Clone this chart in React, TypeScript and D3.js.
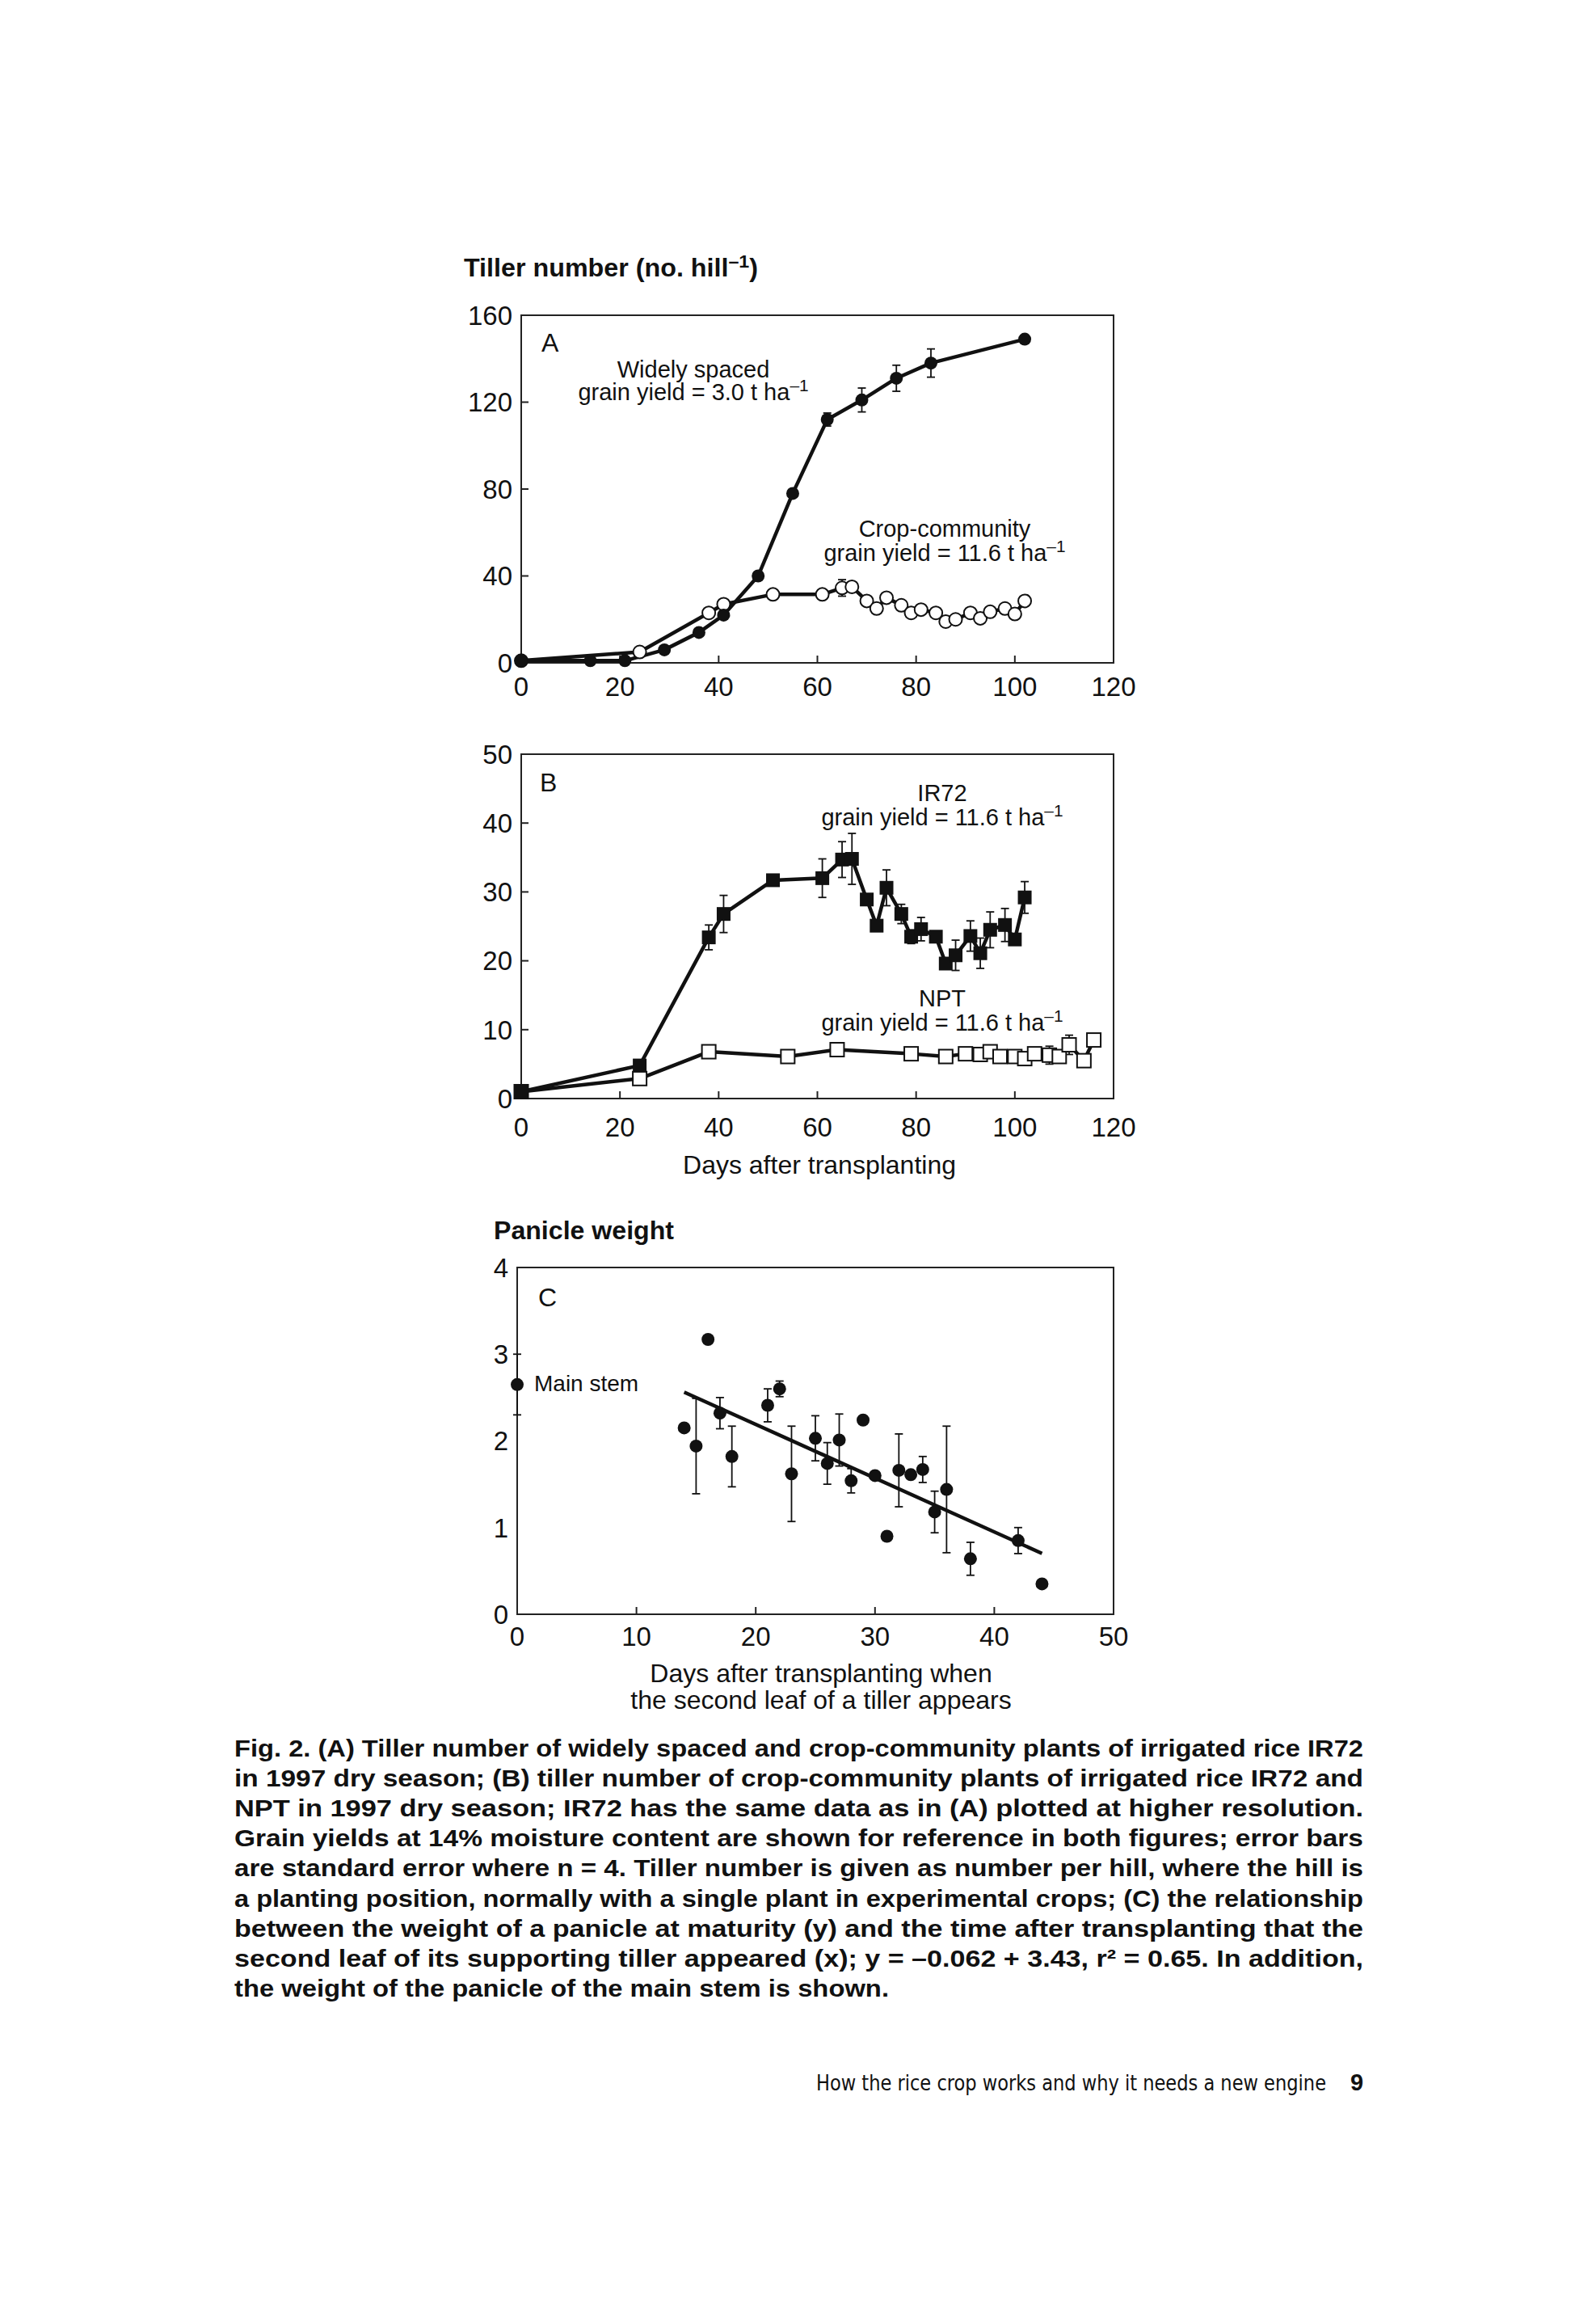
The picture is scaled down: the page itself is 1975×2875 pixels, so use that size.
import React from "react";
import * as d3 from "d3";

// ---------- Panel A: tiller number ----------
const widelyDays = [0, 14, 21, 29, 36, 41, 48, 55, 62, 69, 76, 83, 102];
const widelyTillers = [1, 1, 1, 6, 14, 22, 40, 78, 112, 121, 131, 138, 149];
const widelyErr = [0, 0, 0, 0, 0, 0, 0, 0, 3, 5.5, 6, 6.5, 0];

const communityDays = [0, 24, 38, 41, 51, 61, 65, 67, 70, 72, 74, 77, 79, 81, 84, 86, 88, 91, 93, 95, 98, 100, 102];
const communityTillers = [1, 5, 23, 27, 31.5, 31.5, 34.5, 35, 28.5, 25, 30, 26.5, 23, 24.5, 23, 19, 20, 23, 20.5, 23.5, 25, 22.5, 28.5];
const communityErr = [0, 0, 0, 0, 2, 0, 3.8, 0, 0, 0, 0, 0, 0, 0, 0, 0, 0, 0, 0, 0, 0, 0, 0];

// ---------- Panel B ----------
const ir72Days = [0, 24, 38, 41, 51, 61, 65, 67, 70, 72, 74, 77, 79, 81, 84, 86, 88, 91, 93, 95, 98, 100, 102];
const ir72Tillers = [1, 4.8, 23.4, 26.8, 31.7, 32, 34.7, 34.8, 28.9, 25.1, 30.6, 26.8, 23.5, 24.6, 23.5, 19.6, 20.8, 23.6, 21.1, 24.5, 25.2, 23.1, 29.2];
const ir72Err = [0, 0, 1.8, 2.7, 0.5, 2.8, 2.6, 3.7, 0, 0, 2.6, 1.4, 1, 1.7, 0.5, 0.5, 2.2, 2.2, 2.2, 2.6, 2.4, 0, 2.3];

const nptDays = [0, 24, 38, 54, 64, 79, 86, 90, 93, 95, 97, 100, 102, 104, 107, 109, 111, 114, 116];
const nptTillers = [1, 2.9, 6.8, 6.1, 7.1, 6.5, 6.1, 6.5, 6.4, 6.8, 6.1, 6.1, 5.8, 6.5, 6.3, 6.1, 7.8, 5.5, 8.5];
const nptErr = [0, 0, 0, 0, 0, 0, 0, 0, 0, 0, 0, 0, 0, 0, 1.3, 0, 1.4, 0, 0];

// ---------- Panel C ----------
const emergenceDays = [14, 15, 16, 17, 18, 21, 22, 23, 25, 26, 27, 28, 29, 30, 31, 32, 33, 34, 35, 36, 38, 42, 44];
const panicleWeight = [2.15, 1.94, 3.17, 2.32, 1.82, 2.41, 2.6, 1.62, 2.03, 1.74, 2.01, 1.54, 2.24, 1.6, 0.9, 1.66, 1.61, 1.67, 1.18, 1.44, 0.64, 0.85, 0.35];
const panicleErr = [0, 0.55, 0, 0.18, 0.35, 0.19, 0.09, 0.55, 0.26, 0.24, 0.3, 0.14, 0, 0, 0, 0.42, 0, 0.15, 0.24, 0.73, 0.19, 0.15, 0];
const mainStemDay = [0];
const mainStemWeight = [2.65];
const mainStemErr = [0.35];
const regIntercept = 3.43;
const regSlope = -0.062;
const regRange = [14, 44];

// ---------- ticks ----------
const ticksA_x = [0, 20, 40, 60, 80, 100, 120];
const ticksA_y = [0, 40, 80, 120, 160];
const ticksB_y = [0, 10, 20, 30, 40, 50];
const ticksC_x = [0, 10, 20, 30, 40, 50];
const ticksC_y = [0, 1, 2, 3, 4];

const captionLines = [
  "Fig. 2. (A) Tiller number of widely spaced and crop-community plants of irrigated rice IR72",
  "in 1997 dry season; (B) tiller number of crop-community plants of irrigated rice IR72 and",
  "NPT in 1997 dry season; IR72 has the same data as in (A) plotted at higher resolution.",
  "Grain yields at 14% moisture content are shown for reference in both figures; error bars",
  "are standard error where n = 4. Tiller number is given as number per hill, where the hill is",
  "a planting position, normally with a single plant in experimental crops; (C) the relationship",
  "between the weight of a panicle at maturity (y) and the time after transplanting that the",
  "second leaf of its supporting tiller appeared (x); y = \u20130.062 + 3.43, r\u00b2 = 0.65. In addition,",
  "the weight of the panicle of the main stem is shown.",
];

const FONT = "'Liberation Sans', Arial, Helvetica, sans-serif";
const NARROW = "'Liberation Sans Narrow', 'DejaVu Sans Condensed', 'Liberation Sans', sans-serif";
const INK = "#111";
const TICK_FS = 33;
const NOTE_FS = 29;

type Box = { left: number; right: number; top: number; bottom: number };

function Frame({ box, x, y, xTicks, yTicks, xLabelY, innerX, innerY }: any) {
  return (
    <g>
      <rect x={box.left} y={box.top} width={box.right - box.left} height={box.bottom - box.top} fill="none" stroke="#222" strokeWidth={2} />
      {innerX.map((t: number) => (
        <line key={"xt" + t} x1={x(t)} x2={x(t)} y1={box.bottom} y2={box.bottom - 9} stroke="#222" strokeWidth={2} />
      ))}
      {innerY.map((t: number) => (
        <line key={"yt" + t} x1={box.left} x2={box.left + 9} y1={y(t)} y2={y(t)} stroke="#222" strokeWidth={2} />
      ))}
      {xTicks.map((t: number) => (
        <text key={"xl" + t} x={x(t)} y={xLabelY} textAnchor="middle" fontFamily={FONT} fontSize={TICK_FS} fill={INK}>
          {t}
        </text>
      ))}
      {yTicks.map((t: number) => (
        <text key={"yl" + t} x={box.left - 11} y={y(t)} dy="0.36em" textAnchor="end" fontFamily={FONT} fontSize={TICK_FS} fill={INK}>
          {t}
        </text>
      ))}
    </g>
  );
}

function ErrorBars({ xs, ys, es, x, y }: any) {
  return (
    <g stroke={INK} strokeWidth={1.8}>
      {xs.map((d: number, i: number) =>
        es[i] > 0 ? (
          <g key={i}>
            <line x1={x(d)} x2={x(d)} y1={y(ys[i] - es[i])} y2={y(ys[i] + es[i])} />
            <line x1={x(d) - 5} x2={x(d) + 5} y1={y(ys[i] - es[i])} y2={y(ys[i] - es[i])} />
            <line x1={x(d) - 5} x2={x(d) + 5} y1={y(ys[i] + es[i])} y2={y(ys[i] + es[i])} />
          </g>
        ) : null
      )}
    </g>
  );
}

function Series({ xs, ys, x, y }: any) {
  const line = d3
    .line<number>()
    .x((_, i) => x(xs[i]))
    .y((v) => y(v));
  return <path d={line(ys) || ""} fill="none" stroke={INK} strokeWidth={4.5} strokeLinejoin="round" />;
}

function Sup({ children }: any) {
  return (
    <tspan dy={-11} fontSize="0.72em">
      {children}
    </tspan>
  );
}

export default function App() {
  const boxA: Box = { left: 645, right: 1378, top: 390, bottom: 820 };
  const boxB: Box = { left: 645, right: 1378, top: 933, bottom: 1359 };
  const boxC: Box = { left: 640, right: 1378, top: 1568, bottom: 1997 };

  const xA = d3.scaleLinear().domain([0, 120]).range([boxA.left, boxA.right]);
  const yA = d3.scaleLinear().domain([0, 160]).range([boxA.bottom, boxA.top]);
  const xB = d3.scaleLinear().domain([0, 120]).range([boxB.left, boxB.right]);
  const yB = d3.scaleLinear().domain([0, 50]).range([boxB.bottom, boxB.top]);
  const xC = d3.scaleLinear().domain([0, 50]).range([boxC.left, boxC.right]);
  const yC = d3.scaleLinear().domain([0, 4]).range([boxC.bottom, boxC.top]);

  const sq = 17;

  return (
    <svg
      width={1975}
      height={2875}
      viewBox="0 0 1975 2875"
      style={{ position: "absolute", left: 0, top: 0, display: "block", background: "#fff" }}
    >
      <rect x={0} y={0} width={1975} height={2875} fill="#fff" />

      {/* ---------- Panel A ---------- */}
      <text x={574} y={342} fontFamily={FONT} fontWeight="bold" fontSize={31} fill={INK} textLength={364} lengthAdjust="spacingAndGlyphs">
        Tiller number (no. hill<Sup>–1</Sup>
        <tspan dy={11}>)</tspan>
      </text>
      <Frame box={boxA} x={xA} y={yA} xTicks={ticksA_x} yTicks={ticksA_y} xLabelY={861} innerX={[20, 40, 60, 80, 100]} innerY={[40, 80, 120]} />
      <text x={670} y={435} fontFamily={FONT} fontSize={32} fill={INK}>A</text>
      <text x={858} y={467} textAnchor="middle" fontFamily={FONT} fontSize={NOTE_FS} fill={INK}>Widely spaced</text>
      <text x={858} y={495} textAnchor="middle" fontFamily={FONT} fontSize={NOTE_FS} fill={INK}>
        grain yield = 3.0 t ha<Sup>–1</Sup>
      </text>
      <text x={1169} y={664} textAnchor="middle" fontFamily={FONT} fontSize={NOTE_FS} fill={INK}>Crop-community</text>
      <text x={1169} y={694} textAnchor="middle" fontFamily={FONT} fontSize={NOTE_FS} fill={INK}>
        grain yield = 11.6 t ha<Sup>–1</Sup>
      </text>
      <ErrorBars xs={widelyDays} ys={widelyTillers} es={widelyErr} x={xA} y={yA} />
      <ErrorBars xs={communityDays} ys={communityTillers} es={communityErr} x={xA} y={yA} />
      <Series xs={communityDays} ys={communityTillers} x={xA} y={yA} />
      <Series xs={widelyDays} ys={widelyTillers} x={xA} y={yA} />
      {communityDays.map((d, i) => (
        <circle key={"cc" + i} cx={xA(d)} cy={yA(communityTillers[i])} r={8} fill="#fff" stroke={INK} strokeWidth={2} />
      ))}
      {widelyDays.map((d, i) => (
        <circle key={"ws" + i} cx={xA(d)} cy={yA(widelyTillers[i])} r={8} fill={INK} />
      ))}

      {/* ---------- Panel B ---------- */}
      <Frame box={boxB} x={xB} y={yB} xTicks={ticksA_x} yTicks={ticksB_y} xLabelY={1406} innerX={[20, 40, 60, 80, 100]} innerY={[10, 20, 30, 40]} />
      <text x={668} y={979} fontFamily={FONT} fontSize={32} fill={INK}>B</text>
      <text x={1166} y={991} textAnchor="middle" fontFamily={FONT} fontSize={NOTE_FS} fill={INK}>IR72</text>
      <text x={1166} y={1021} textAnchor="middle" fontFamily={FONT} fontSize={NOTE_FS} fill={INK}>
        grain yield = 11.6 t ha<Sup>–1</Sup>
      </text>
      <text x={1166} y={1245} textAnchor="middle" fontFamily={FONT} fontSize={NOTE_FS} fill={INK}>NPT</text>
      <text x={1166} y={1275} textAnchor="middle" fontFamily={FONT} fontSize={NOTE_FS} fill={INK}>
        grain yield = 11.6 t ha<Sup>–1</Sup>
      </text>
      <text x={1014} y={1452} textAnchor="middle" fontFamily={FONT} fontSize={32} fill={INK}>Days after transplanting</text>
      <ErrorBars xs={ir72Days} ys={ir72Tillers} es={ir72Err} x={xB} y={yB} />
      <ErrorBars xs={nptDays} ys={nptTillers} es={nptErr} x={xB} y={yB} />
      <Series xs={nptDays} ys={nptTillers} x={xB} y={yB} />
      <Series xs={ir72Days} ys={ir72Tillers} x={xB} y={yB} />
      {nptDays.map((d, i) => (
        <rect key={"np" + i} x={xB(d) - sq / 2} y={yB(nptTillers[i]) - sq / 2} width={sq} height={sq} fill="#fff" stroke={INK} strokeWidth={2} />
      ))}
      {ir72Days.map((d, i) => (
        <rect key={"ir" + i} x={xB(d) - sq / 2} y={yB(ir72Tillers[i]) - sq / 2} width={sq} height={sq} fill={INK} />
      ))}

      {/* ---------- Panel C ---------- */}
      <text x={611} y={1533} fontFamily={FONT} fontWeight="bold" fontSize={31} fill={INK} textLength={223} lengthAdjust="spacingAndGlyphs">Panicle weight</text>
      <Frame box={boxC} x={xC} y={yC} xTicks={ticksC_x} yTicks={ticksC_y} xLabelY={2036} innerX={[10, 20, 30, 40]} innerY={[]} />
      <text x={666} y={1616} fontFamily={FONT} fontSize={32} fill={INK}>C</text>
      <text x={661} y={1721} fontFamily={FONT} fontSize={28} fill={INK}>Main stem</text>
      <text x={1016} y={2081} textAnchor="middle" fontFamily={FONT} fontSize={32} fill={INK}>Days after transplanting when</text>
      <text x={1016} y={2114} textAnchor="middle" fontFamily={FONT} fontSize={32} fill={INK}>the second leaf of a tiller appears</text>
      <ErrorBars xs={emergenceDays} ys={panicleWeight} es={panicleErr} x={xC} y={yC} />
      <ErrorBars xs={mainStemDay} ys={mainStemWeight} es={mainStemErr} x={xC} y={yC} />
      <line
        x1={xC(regRange[0])}
        y1={yC(regIntercept + regSlope * regRange[0])}
        x2={xC(regRange[1])}
        y2={yC(regIntercept + regSlope * regRange[1])}
        stroke={INK}
        strokeWidth={4.5}
      />
      {emergenceDays.map((d, i) => (
        <circle key={"pw" + i} cx={xC(d)} cy={yC(panicleWeight[i])} r={8} fill={INK} />
      ))}
      {mainStemDay.map((d, i) => (
        <circle key={"ms" + i} cx={xC(d)} cy={yC(mainStemWeight[i])} r={8} fill={INK} />
      ))}

      {/* ---------- Caption ---------- */}
      {captionLines.map((t, i) => (
        <text
          key={"cap" + i}
          x={290}
          y={2173 + i * 37.1}
          fontFamily={FONT}
          fontWeight="bold"
          fontSize={30}
          fill={INK}
          textLength={i < captionLines.length - 1 ? 1397 : 810}
          lengthAdjust="spacingAndGlyphs"
        >
          {t}
        </text>
      ))}

      {/* ---------- Footer ---------- */}
      <text x={1641} y={2586} textAnchor="end" fontFamily={NARROW} fontSize={26} fill={INK} textLength={631} lengthAdjust="spacingAndGlyphs">
        How the rice crop works and why it needs a new engine
      </text>
      <text x={1671} y={2586} fontFamily={FONT} fontWeight="bold" fontSize={29} fill={INK}>9</text>
    </svg>
  );
}
